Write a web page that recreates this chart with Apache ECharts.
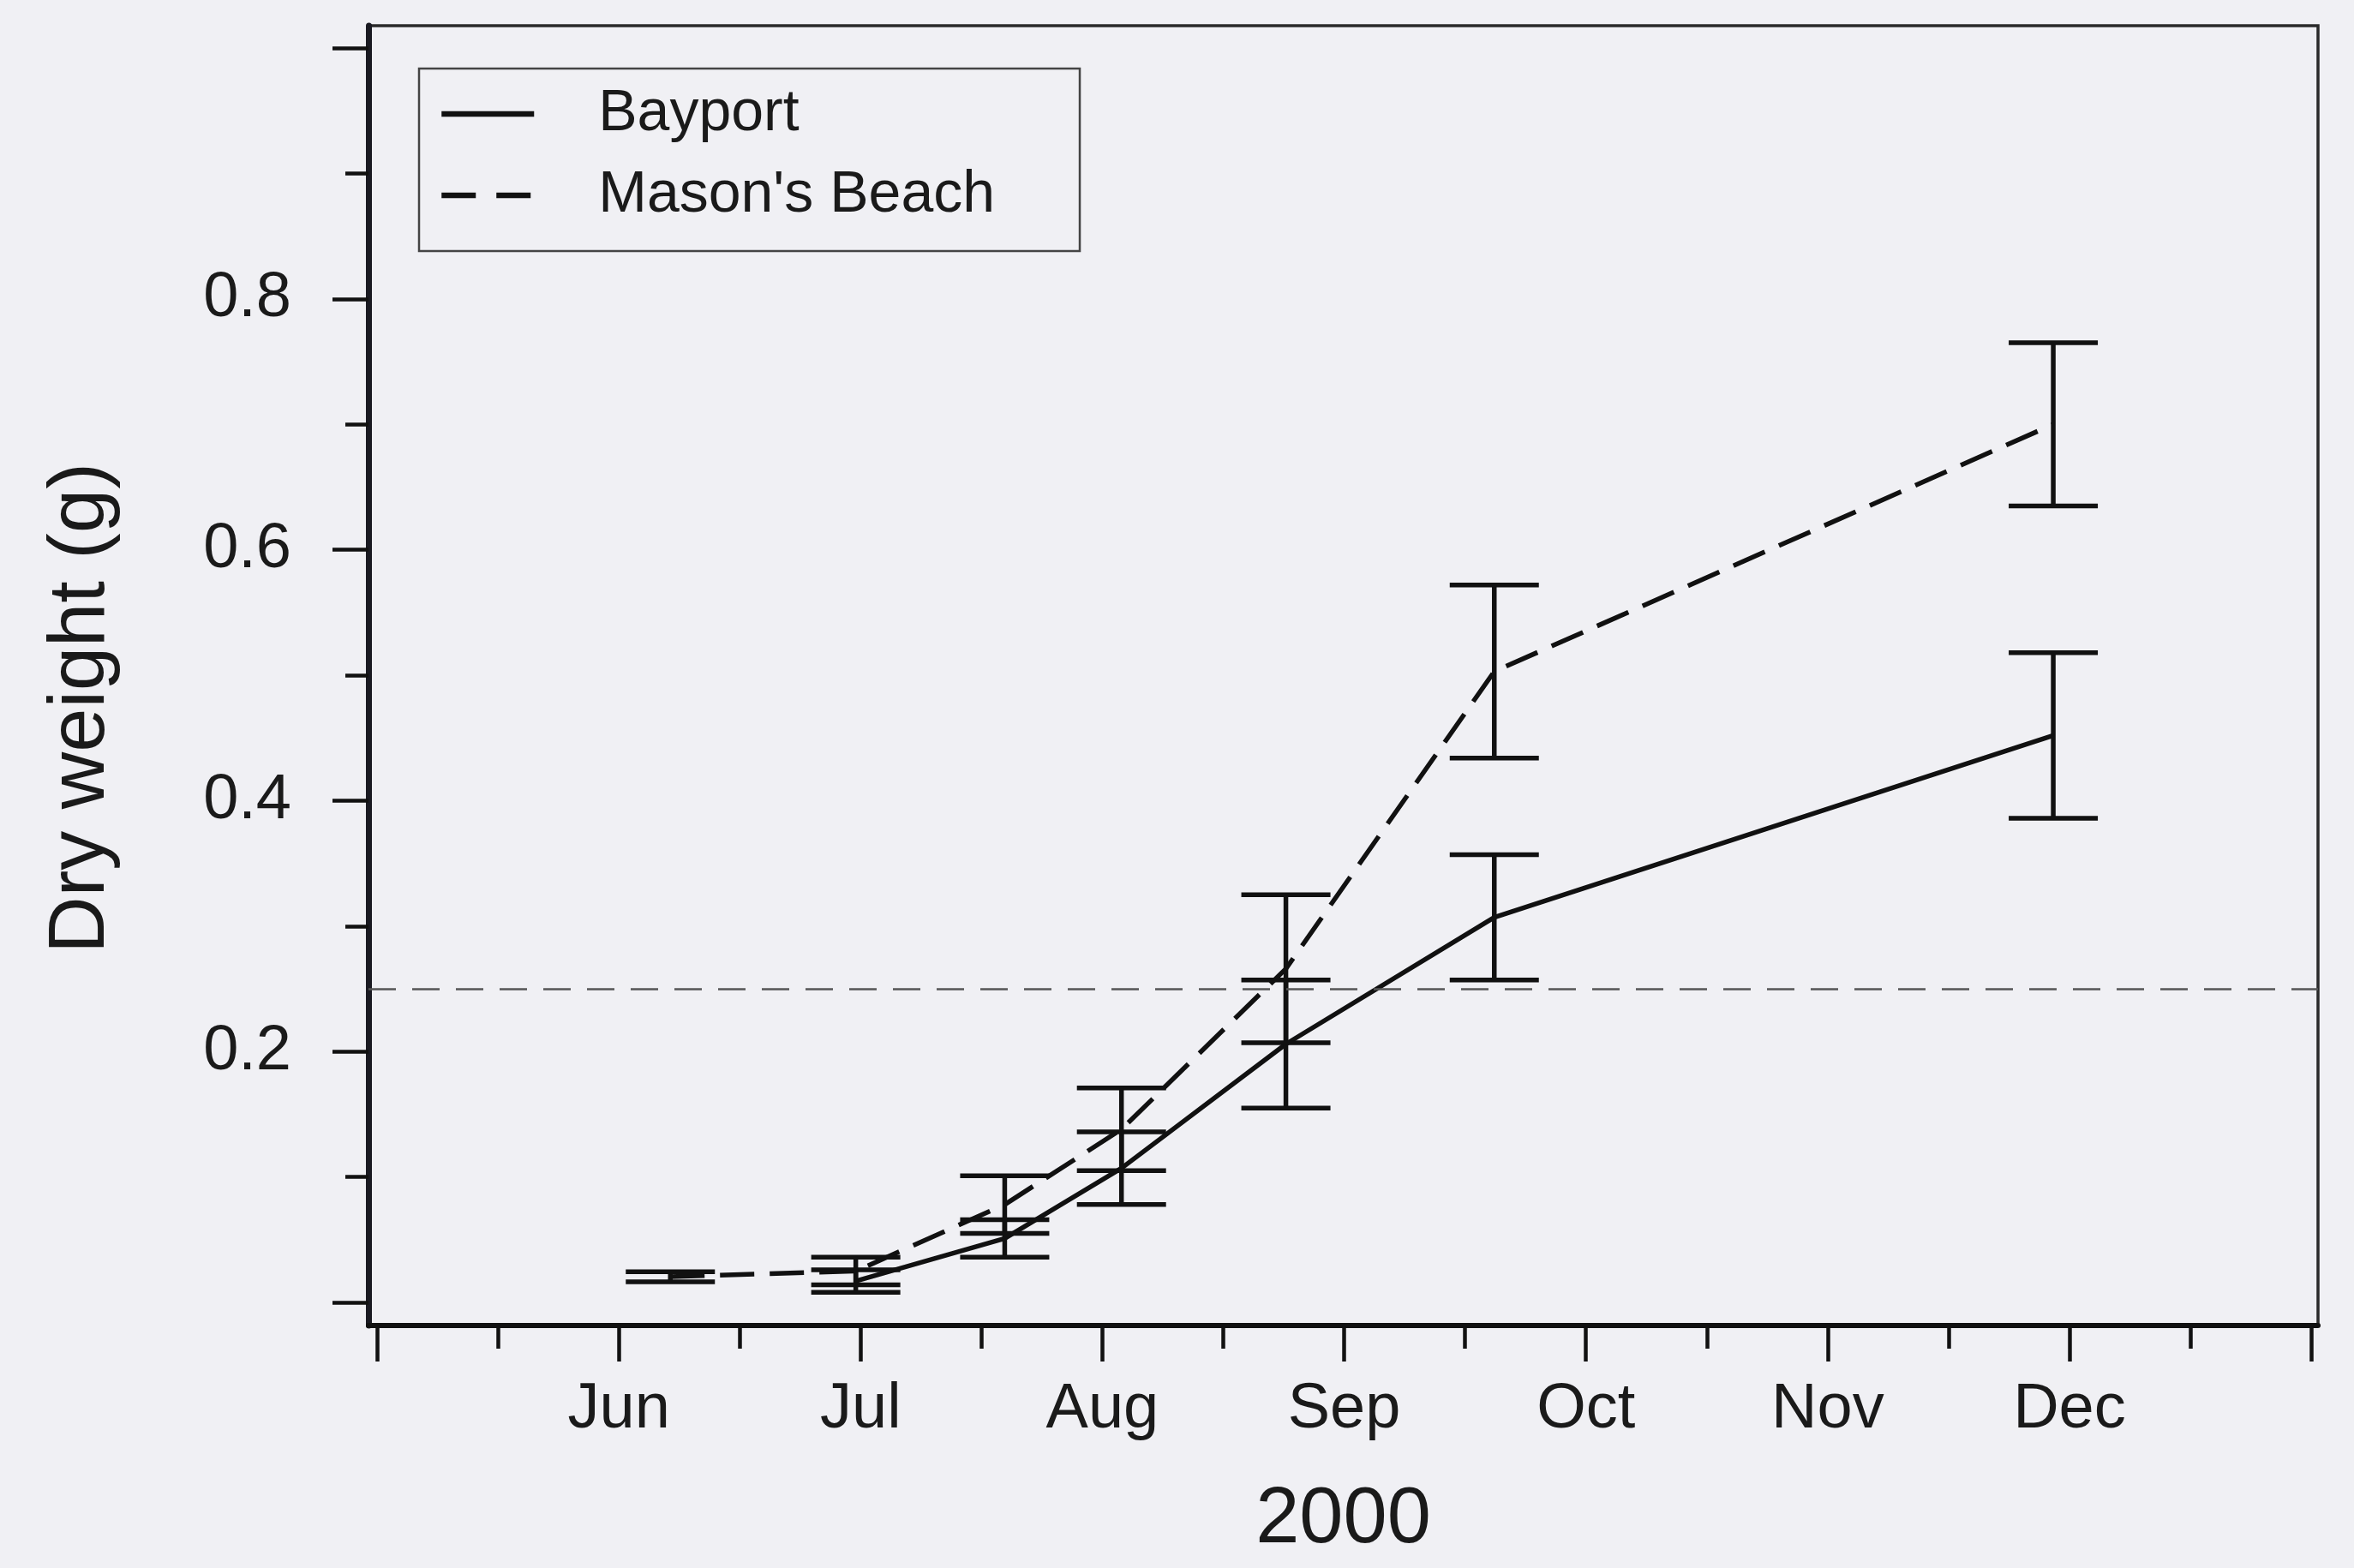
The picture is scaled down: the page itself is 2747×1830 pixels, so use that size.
<!DOCTYPE html>
<html>
<head>
<meta charset="utf-8">
<script src="https://cdn.jsdelivr.net/npm/echarts@6/dist/echarts.min.js"></script>
<style>
html, body { margin: 0; padding: 0; background: #f0f0f4; }
#chart { width: 2747px; height: 1830px; }
</style>
</head>
<body>
<div id="chart"></div>
<script>
// x values are in months after 1 May 2000 (0 = May, 1 = Jun, ... 8 = Jan)
const sampleMonths = [1.213, 1.980, 2.596, 3.079, 3.759, 4.621, 6.933];
const bayportMean = [null, 0.017, 0.051, 0.107, 0.206, 0.307, 0.452];
const bayportErr  = [null, 0.009, 0.015, 0.029, 0.051, 0.050, 0.066];
const masonMean   = [0.0205, 0.025, 0.078, 0.138, 0.266, 0.503, 0.700];
const masonErr    = [0.004, 0.011, 0.023, 0.033, 0.059, 0.069, 0.065];
const referenceLevel = 0.25;

const monthLabels = ['Jun', 'Jul', 'Aug', 'Sep', 'Oct', 'Nov', 'Dec'];
const monthLabelPos = [1, 2, 3, 4, 5, 6, 7];
const xMajorTicks = [0, 1, 2, 3, 4, 5, 6, 7, 8];
const xMinorTicks = [0.5, 1.5, 2.5, 3.5, 4.5, 5.5, 6.5, 7.5];
const yMajorTicks = [0, 0.2, 0.4, 0.6, 0.8, 1.0];
const yMinorTicks = [0.1, 0.3, 0.5, 0.7, 0.9];
const yLabelPos = [0.2, 0.4, 0.6, 0.8];

const FONT = '"Liberation Sans", Arial, Helvetica, sans-serif';
const INK = '#111';
const TEXT = '#1a1a1a';

function linePoints(means) {
  const out = [];
  means.forEach((m, i) => { if (m !== null) out.push([sampleMonths[i], m]); });
  return out;
}
function barPoints(means, errs) {
  const out = [];
  means.forEach((m, i) => { if (m !== null) out.push([sampleMonths[i], m, errs[i]]); });
  return out;
}
function errorBarItem(params, api) {
  const x = api.value(0), m = api.value(1), e = api.value(2);
  const hi = api.coord([x, m + e]);
  const lo = api.coord([x, m - e]);
  const half = 52;
  const style = { stroke: INK, lineWidth: 5.5 };
  return {
    type: 'group',
    children: [
      { type: 'line', shape: { x1: hi[0], y1: hi[1], x2: lo[0], y2: lo[1] }, style: style },
      { type: 'line', shape: { x1: hi[0] - half, y1: hi[1], x2: hi[0] + half, y2: hi[1] }, style: style },
      { type: 'line', shape: { x1: lo[0] - half, y1: lo[1], x2: lo[0] + half, y2: lo[1] }, style: style }
    ]
  };
}

const chart = echarts.init(document.getElementById('chart'), null, { renderer: 'canvas' });

const xMin = -0.0355, xMax = 8.028;
const yMin = -0.0184, yMax = 1.0178;

const option = {
  backgroundColor: '#f0f0f4',
  animation: false,
  textStyle: { fontFamily: FONT },
  grid: {
    left: 430, right: 42, top: 30, bottom: 283,
    show: true, borderColor: '#2a2a2a', borderWidth: 3.5, backgroundColor: 'transparent'
  },
  legend: {
    orient: 'vertical',
    left: 489, top: 80,
    borderColor: '#444', borderWidth: 2.5,
    padding: [18, 99, 30, 23],
    itemWidth: 108, itemHeight: 20, itemGap: 25,
    itemStyle: { color: 'rgba(0,0,0,0)', borderWidth: 0, opacity: 0 },
    textStyle: { fontFamily: FONT, fontSize: 68, color: TEXT, lineHeight: 70, padding: [0, 0, 0, 70] },
    data: [
      { name: 'Bayport', lineStyle: { type: 'solid', width: 6.5, color: INK } },
      { name: "Mason's Beach", lineStyle: { type: [40, 24], width: 6.5, color: INK } }
    ]
  },
  xAxis: [
    {
      type: 'value', min: xMin, max: xMax, position: 'bottom',
      axisLine: { show: true, onZero: false, lineStyle: { color: INK, width: 6 } },
      axisTick: { show: true, customValues: xMajorTicks, length: 42, lineStyle: { color: INK, width: 4.5 } },
      axisLabel: {
        show: true, customValues: monthLabelPos, margin: 62,
        fontFamily: FONT, fontSize: 74, color: TEXT,
        formatter: v => monthLabels[Math.round(v) - 1] || ''
      },
      splitLine: { show: false },
      name: '2000', nameLocation: 'middle', nameGap: 182,
      nameTextStyle: { fontFamily: FONT, fontSize: 92, color: TEXT }
    },
    {
      type: 'value', min: xMin, max: xMax, position: 'bottom',
      axisLine: { show: false, onZero: false },
      axisTick: { show: true, customValues: xMinorTicks, length: 27, lineStyle: { color: INK, width: 4.5 } },
      axisLabel: { show: false },
      splitLine: { show: false }
    }
  ],
  yAxis: [
    {
      type: 'value', min: yMin, max: yMax, position: 'left',
      axisLine: { show: true, onZero: false, lineStyle: { color: '#1a1a22', width: 7 } },
      axisTick: { show: true, customValues: yMajorTicks, length: 42, lineStyle: { color: INK, width: 4.5 } },
      axisLabel: {
        show: true, customValues: yLabelPos, margin: 90,
        fontFamily: FONT, fontSize: 74, color: TEXT,
        formatter: v => v.toFixed(1)
      },
      splitLine: { show: false },
      name: 'Dry weight (g)', nameLocation: 'middle', nameGap: 288, nameRotate: 90,
      nameTextStyle: { fontFamily: FONT, fontSize: 92, color: TEXT, padding: [0, 76, 0, 0] }
    },
    {
      type: 'value', min: yMin, max: yMax, position: 'left',
      axisLine: { show: false, onZero: false },
      axisTick: { show: true, customValues: yMinorTicks, length: 27, lineStyle: { color: INK, width: 4.5 } },
      axisLabel: { show: false },
      splitLine: { show: false }
    }
  ],
  series: [
    {
      name: 'Bayport', type: 'line', xAxisIndex: 0, yAxisIndex: 0,
      data: linePoints(bayportMean),
      symbol: 'none', showSymbol: false,
      lineStyle: { color: INK, width: 5.5, type: 'solid' },
      itemStyle: { color: INK },
      z: 3,
      markLine: {
        silent: true, symbol: 'none', label: { show: false },
        lineStyle: { color: '#555', width: 2.5, type: [32, 19] },
        data: [{ yAxis: referenceLevel }]
      }
    },
    {
      name: "Mason's Beach", type: 'line', xAxisIndex: 0, yAxisIndex: 0,
      data: linePoints(masonMean),
      symbol: 'none', showSymbol: false,
      lineStyle: { color: INK, width: 5.5, type: [40, 18] },
      itemStyle: { color: INK },
      z: 3
    },
    {
      name: 'Bayport SE', type: 'custom', xAxisIndex: 0, yAxisIndex: 0,
      renderItem: errorBarItem, encode: { x: 0, y: 1 },
      data: barPoints(bayportMean, bayportErr), z: 4, silent: true
    },
    {
      name: "Mason's Beach SE", type: 'custom', xAxisIndex: 0, yAxisIndex: 0,
      renderItem: errorBarItem, encode: { x: 0, y: 1 },
      data: barPoints(masonMean, masonErr), z: 4, silent: true
    }
  ]
};
chart.setOption(option);
</script>
</body>
</html>
